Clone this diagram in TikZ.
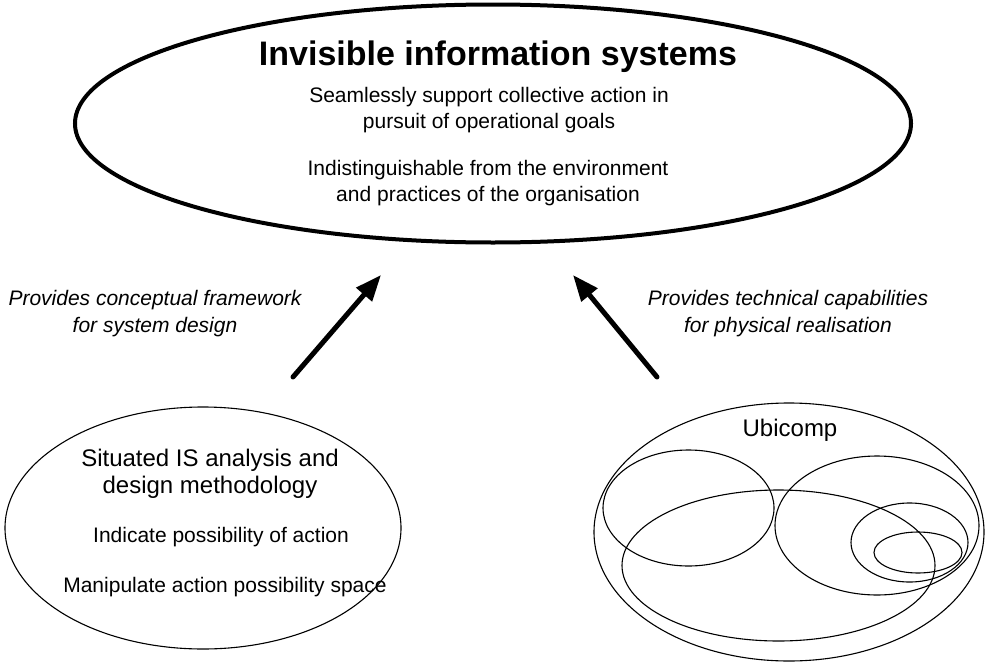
\documentclass[tikz,border=0pt]{standalone}
\usepackage{fontspec}
\setmainfont{Liberation Sans}
\usetikzlibrary{arrows.meta}
\begin{document}
\begin{tikzpicture}[x=1pt,y=-1pt,
  bodytext/.style={font=\fontsize{21}{26}\selectfont, align=center, inner sep=0pt},
  headtext/.style={font=\fontsize{24}{27}\selectfont, align=center, inner sep=0pt},
  labeltext/.style={font=\fontsize{21}{27}\selectfont\itshape, align=center, inner sep=0pt},
  thinring/.style={draw, line width=1.1pt},
  bigarrow/.style={line width=5pt, -{Triangle[length=26pt,width=20pt]}}]
\useasboundingbox (0,0) rectangle (988,664);

% main goal ellipse
\draw[line width=4pt] (493,123.5) ellipse [x radius=418, y radius=119];
\node[inner sep=0pt, font=\fontsize{34}{40}\selectfont\bfseries] (title) at (498,57) {Invisible information systems};
\node[bodytext] (goal1) at (489,110) {Seamlessly support collective action in\\pursuit of operational goals};
\node[bodytext] (goal2) at (488,183) {Indistinguishable from the environment\\and practices of the organisation};

% methodology ellipse
\draw[thinring] (203,528) ellipse [x radius=198, y radius=121];
\node[headtext] (situated) at (210,474) {Situated IS analysis and\\design methodology};
\node[bodytext] (indicate) at (221,537) {Indicate possibility of action};
\node[bodytext] (manipulate) at (225,587) {Manipulate action possibility space};

% ubicomp nested ellipses
\draw[thinring] (789,532) ellipse [x radius=195, y radius=129];
\node[headtext] (ubicomp) at (790,430) {Ubicomp};
\draw[thinring] (688.5,508) ellipse [x radius=85.5, y radius=58];
\draw[thinring] (778.5,565.5) ellipse [x radius=156.5, y radius=75.5];
\draw[thinring] (877,525.5) ellipse [x radius=102, y radius=69.5];
\draw[thinring] (909.5,542.5) ellipse [x radius=58.5, y radius=39.5];
\draw[thinring] (918,552.5) ellipse [x radius=44, y radius=20.5];

% arrows and their labels
\coordinate (lfoot) at (293,377);
\coordinate (ltip) at (381,275);
\coordinate (rfoot) at (657,377);
\coordinate (rtip) at (573,275);
\draw[bigarrow, line cap=round] (lfoot) -- (ltip);
\draw[bigarrow, line cap=round] (rfoot) -- (rtip);
\node[labeltext] (conceptual) at (155,314) {Provides conceptual framework\\for system design};
\node[labeltext] (technical) at (788,314) {Provides technical capabilities\\for physical realisation};
\end{tikzpicture}
\end{document}
